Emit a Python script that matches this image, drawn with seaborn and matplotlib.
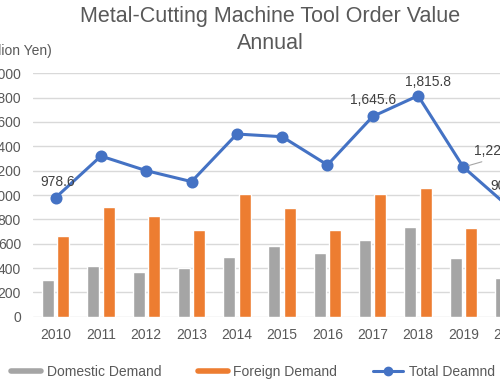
import numpy as np
import pandas as pd
import matplotlib
matplotlib.use("Agg")
import matplotlib.pyplot as plt
import seaborn as sns
from matplotlib.lines import Line2D

years = ["2010", "2011", "2012", "2013", "2014", "2015", "2016", "2017", "2018", "2019", "2020"]
domestic = [301, 417, 370, 397, 489, 582, 522, 630, 740, 485, 316]
foreign = [663, 899, 830, 712, 1007, 890, 712, 1007, 1060, 731, 587]
total = [978.6, 1320, 1200, 1110, 1501, 1479, 1247, 1645.6, 1815.8, 1229.4, 902.7]
labelled = ["2010", "2017", "2018", "2019", "2020"]

gray = "#A5A5A5"
orange = "#ED7D31"
blue = "#4472C4"
txt = "#595959"

sns.set_theme(style="white")
plt.rcParams['font.family'] = ['Liberation Sans', 'DejaVu Sans']

df = pd.DataFrame({
    "Year": years * 2,
    "Value": domestic + foreign,
    "Type": ["Domestic Demand"] * len(years) + ["Foreign Demand"] * len(years),
})

fig = plt.figure(figsize=(5, 3.83), dpi=100)
ax = fig.add_axes([0.066, 0.1731, 0.9966, 0.6355])

sns.barplot(data=df, x="Year", y="Value", hue="Type", order=years,
            palette=[gray, orange], saturation=1, width=0.68, gap=0.22,
            legend=False, ax=ax)
sns.pointplot(x=years, y=total, order=years, color=blue, markers="o",
              markersize=7, linewidth=2.2, errorbar=None, ax=ax)

ax.set_xlim(-0.5, len(years) - 0.5)
ax.set_ylim(0, 2000)
ax.set_yticks(range(0, 2001, 200))
ax.set_yticklabels([f"{v:,}" for v in range(0, 2001, 200)])
ax.set_xlabel("")
ax.set_ylabel("")
ax.yaxis.grid(True, color="#D9D9D9", lw=1)
ax.set_axisbelow(True)
for s in ax.spines.values():
    s.set_visible(False)
ax.tick_params(axis="both", length=0, labelsize=10, labelcolor=txt)
ax.tick_params(axis="y", pad=8.6)
ax.tick_params(axis="x", pad=8)

# data labels
offsets = {"2010": (1.5, 11, "center", None), "2017": (0.5, 11.5, "center", None),
           "2018": (7, 10, "center", None), "2019": (7.5, 11.5, "left", "lead"),
           "2020": (-13, 15, "left", None)}
for yr in labelled:
    i = years.index(yr)
    dx, dy, ha, lead = offsets[yr]
    kw = {}
    if lead:
        kw["arrowprops"] = dict(arrowstyle="-", color="#A6A6A6", lw=0.8,
                                relpos=(0.45, 0), shrinkA=1, shrinkB=4)
    ax.annotate(f"{total[i]:,.1f}", (i, total[i]), xytext=(dx, dy),
                textcoords="offset points", ha=ha, va="center",
                fontsize=10, color="#404040", **kw)

fig.text(0.54, 0.922, "Metal-Cutting Machine Tool Order Value\nAnnual",
         ha="center", va="center", fontsize=15.5, color=txt, linespacing=1.4)
fig.text(0.104, 1 - 51 / 383, "(Billion Yen)", ha="right", va="center",
         fontsize=10, color=txt)

handles = [Line2D([], [], color=gray, lw=4),
           Line2D([], [], color=orange, lw=4),
           Line2D([], [], color=blue, lw=2.2, marker="o", markersize=6)]
fig.legend(handles, ["Domestic Demand", "Foreign Demand", "Total Deamnd"],
           loc="center", bbox_to_anchor=(0.506, 0.029), ncol=3, frameon=False,
           fontsize=10, labelcolor=txt, handlelength=2.16, handletextpad=0.4,
           columnspacing=2.6)

fig.savefig("out.png", dpi=100)
